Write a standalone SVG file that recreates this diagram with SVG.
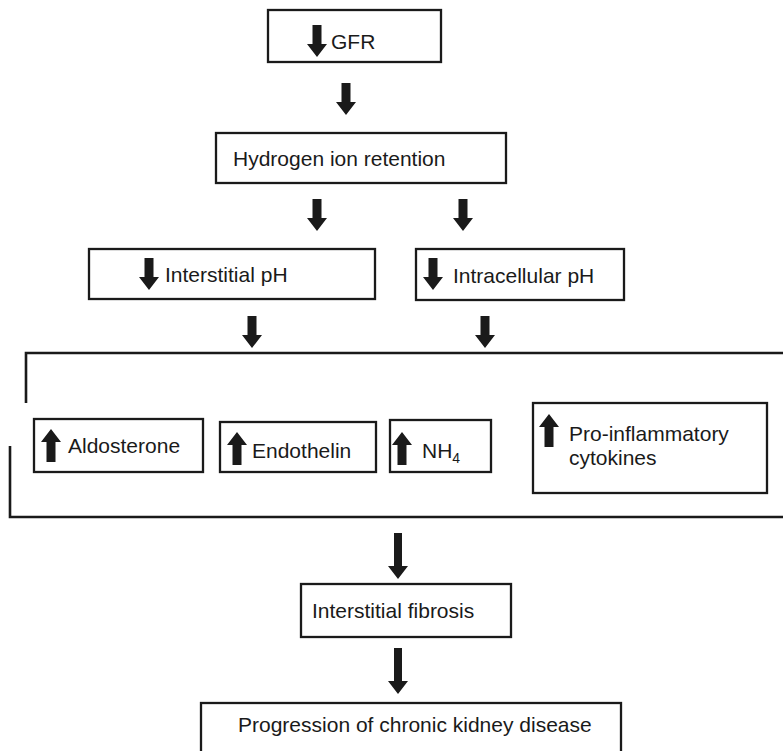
<svg xmlns="http://www.w3.org/2000/svg" xmlns:xlink="http://www.w3.org/1999/xlink" width="783" height="751" viewBox="0 0 783 751">
<style>
.box{fill:#fff;stroke:#1a1a1a;stroke-width:2.3}
.br{fill:none;stroke:#1a1a1a;stroke-width:2.6}
.ar{fill:#1a1a1a}
text{font-family:"Liberation Sans",Arial,sans-serif;font-size:21px;fill:#1a1a1a}
</style>
<defs>
<path id="dn" d="M-4.5,0 H4.5 V19 H10 L0,32 L-10,19 H-4.5 Z"/>
<path id="dnL" d="M-4,0 H4 V33 H10 L0,46 L-10,33 H-4 Z"/>
<path id="up" d="M-4.5,33 H4.5 V13 H10 L0,0 L-10,13 H-4.5 Z"/>
</defs>
<rect width="783" height="751" fill="#fff"/>
<g id="connectors" class="ar">
<use href="#dn" x="346" y="83"/>
<use href="#dn" x="317" y="199"/>
<use href="#dn" x="463" y="199"/>
<use href="#dn" x="252" y="316"/>
<use href="#dn" x="485" y="316"/>
<path class="br" d="M26,403 V353 H783"/>
<path class="br" d="M10,446 V517 H783"/>
<use href="#dnL" x="398" y="533"/>
<use href="#dnL" x="398" y="648"/>
</g>
<g id="gfr">
<rect class="box" x="268" y="10" width="173" height="52"/>
<use class="ar" href="#dn" x="317" y="25"/>
<text x="331" y="49">GFR</text>
</g>
<g id="hydrogen">
<rect class="box" x="216" y="133" width="290" height="50"/>
<text x="233" y="166">Hydrogen ion retention</text>
</g>
<g id="interstitial-ph">
<rect class="box" x="89" y="249" width="286" height="50"/>
<use class="ar" href="#dn" x="149" y="258"/>
<text x="165" y="282">Interstitial pH</text>
</g>
<g id="intracellular-ph">
<rect class="box" x="416" y="249" width="208" height="51"/>
<use class="ar" href="#dn" x="433" y="258"/>
<text x="453" y="283">Intracellular pH</text>
</g>
<g id="aldosterone">
<rect class="box" x="34" y="419" width="169" height="53"/>
<use class="ar" href="#up" x="51" y="429"/>
<text x="68" y="453">Aldosterone</text>
</g>
<g id="endothelin">
<rect class="box" x="220" y="422" width="156" height="50"/>
<use class="ar" href="#up" x="237" y="432"/>
<text x="252" y="458">Endothelin</text>
</g>
<g id="nh4">
<rect class="box" x="390" y="420" width="101" height="52"/>
<use class="ar" href="#up" x="402" y="432"/>
<text x="422" y="458">NH<tspan font-size="14" dy="5">4</tspan></text>
</g>
<g id="cytokines">
<rect class="box" x="533" y="403" width="234" height="90"/>
<use class="ar" href="#up" x="549" y="414"/>
<text x="569" y="441">Pro-inflammatory</text>
<text x="569" y="465">cytokines</text>
</g>
<g id="fibrosis">
<rect class="box" x="301" y="584" width="210" height="53"/>
<text x="312" y="618">Interstitial fibrosis</text>
</g>
<g id="ckd">
<rect class="box" x="201" y="703" width="420" height="60"/>
<text x="238" y="732">Progression of chronic kidney disease</text>
</g>
</svg>
